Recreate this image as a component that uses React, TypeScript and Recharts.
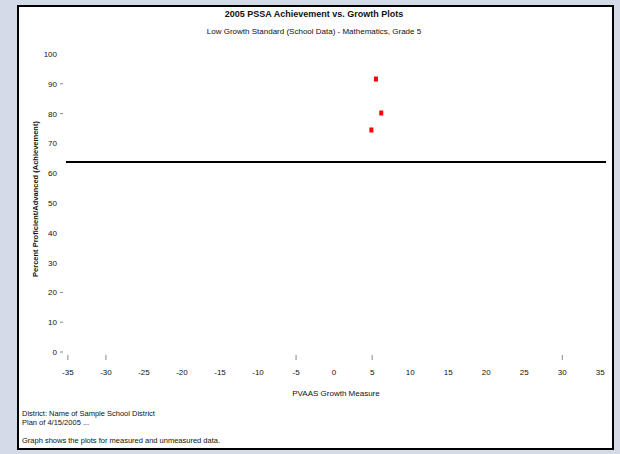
import React from "react";
import {
  ReferenceLine,
  Scatter,
  ScatterChart,
  XAxis,
  YAxis,
} from "recharts";

const title = "2005 PSSA Achievement vs. Growth Plots";
const subtitle = "Low Growth Standard (School Data) - Mathematics, Grade 5";
const xLabel = "PVAAS Growth Measure";
const yLabel = "Percent Proficient/Advanced (Achievement)";
const footnotes = [
  "District: Name of Sample School District",
  "Plan of 4/15/2005 ...",
  "Graph shows the plots for measured and unmeasured data.",
];

const xTicks = [-35, -30, -25, -20, -15, -10, -5, 0, 5, 10, 15, 20, 25, 30, 35];
const xMarked = [-35, -30, -5, 5, 30];
const yTicks = [0, 10, 20, 30, 40, 50, 60, 70, 80, 90, 100];
const yMarked = [0, 10, 20, 80, 90];

const growth = [5.5, 6.2, 4.9];
const achievement = [91.6, 80.2, 74.5];
const target = 63.8;

const points = growth.map((g, i) => ({ x: g, y: achievement[i] }));

const FONT = "'Liberation Sans', Arial, sans-serif";

function XTick(props: any) {
  const { x, y, payload } = props;
  const v = payload.value as number;
  return (
    <g>
      {xMarked.includes(v) && (
        <line x1={x} x2={x} y1={y + 3} y2={y + 8} stroke="#888" strokeWidth={1} />
      )}
      <text
        x={x}
        y={y + 23}
        textAnchor="middle"
        fontSize={8}
        fontFamily={FONT}
        fill="#111"
      >
        {v}
      </text>
    </g>
  );
}

function YTick(props: any) {
  const { x, y, payload } = props;
  const v = payload.value as number;
  return (
    <g>
      <text
        x={x - 9}
        y={y + 3}
        textAnchor="end"
        fontSize={8}
        fontFamily={FONT}
        fill="#111"
      >
        {v}
      </text>
      {yMarked.includes(v) && (
        <line x1={x - 6} x2={x - 3} y1={y} y2={y} stroke="#888" strokeWidth={1} />
      )}
    </g>
  );
}

function Marker(props: any) {
  const { cx, cy } = props;
  return <rect x={cx - 2} y={cy - 2.5} width={4} height={5} fill="#ff0000" />;
}

export default function App() {
  return (
    <div
      style={{
        position: "fixed",
        left: 0,
        top: 0,
        width: 620,
        height: 454,
        background: "#d3dbe9",
        fontFamily: FONT,
      }}
    >
      <div
        style={{
          position: "absolute",
          left: 17,
          top: 5,
          width: 597,
          height: 445,
          boxSizing: "border-box",
          border: "2px solid #000",
          background: "#fff",
        }}
      />
      <div
        style={{
          position: "absolute",
          left: 0,
          top: 9,
          width: 628,
          textAlign: "center",
          fontSize: 9,
          fontWeight: "bold",
          color: "#111",
        }}
      >
        {title}
      </div>
      <div
        style={{
          position: "absolute",
          left: 0,
          top: 27,
          width: 628,
          textAlign: "center",
          fontSize: 8,
          color: "#111",
        }}
      >
        {subtitle}
      </div>
      <div style={{ position: "absolute", left: 0, top: 0 }}>
        <ScatterChart
          width={620}
          height={454}
          margin={{ top: 54, right: 14, bottom: 72, left: 46 }}
        >
          <XAxis
            type="number"
            dataKey="x"
            domain={[-35.25, 35.75]}
            ticks={xTicks}
            interval={0}
            axisLine={false}
            tickLine={false}
            tickSize={0}
            tickMargin={0}
            height={30}
            tick={<XTick />}
            label={{
              value: xLabel,
              position: "insideBottom",
              offset: -14,
              fontSize: 8,
              fontFamily: FONT,
              fill: "#111",
            }}
          />
          <YAxis
            type="number"
            dataKey="y"
            domain={[0, 100]}
            ticks={yTicks}
            interval={0}
            axisLine={false}
            tickLine={false}
            tickSize={0}
            tickMargin={0}
            width={20}
            tick={<YTick />}
          />
          <ReferenceLine y={target} stroke="#000" strokeWidth={2} />
          <Scatter
            data={points}
            fill="#ff0000"
            shape={<Marker />}
            isAnimationActive={false}
          />
        </ScatterChart>
      </div>
      <div
        style={{
          position: "absolute",
          left: 35,
          top: 199,
          width: 0,
          height: 0,
        }}
      >
        <div
          style={{
            position: "absolute",
            left: 0,
            top: 0,
            transform: "translate(-50%, -50%) rotate(-90deg)",
            whiteSpace: "nowrap",
            fontSize: 7.5,
            fontWeight: "bold",
            color: "#111",
          }}
        >
          {yLabel}
        </div>
      </div>
      <div
        style={{
          position: "absolute",
          left: 22,
          top: 409,
          fontSize: 7.5,
          lineHeight: "9px",
          color: "#111",
        }}
      >
        <div>{footnotes[0]}</div>
        <div>{footnotes[1]}</div>
        <div style={{ marginTop: 9 }}>{footnotes[2]}</div>
      </div>
    </div>
  );
}
